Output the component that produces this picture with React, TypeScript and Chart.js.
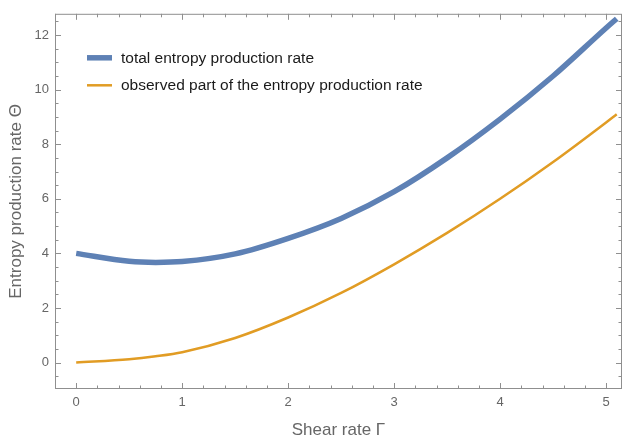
import React, { useEffect, useRef } from "react";
import { Chart, registerables } from "chart.js";

Chart.register(...registerables);

// ---- data ----
const shearRate = [0, 0.5, 0.75, 1, 1.5, 2, 2.5, 3, 3.5, 4, 4.5, 5, 5.1];
const totalRate = [4.0, 3.71, 3.67, 3.7, 3.98, 4.55, 5.28, 6.26, 7.5, 8.92, 10.5, 12.26, 12.6];
const observedRate = [0, 0.12, 0.23, 0.38, 0.9, 1.65, 2.55, 3.6, 4.75, 6.0, 7.35, 8.8, 9.1];

const seriesLabels = ["total entropy production rate", "observed part of the entropy production rate"];
const xTitle = "Shear rate Γ";
const yTitle = "Entropy production rate Θ";

const BLUE = "#5E81B5";
const ORANGE = "#E19C24";
const FRAME = "#8f8f8f";
const TICK_TEXT = "#666666";
const FONT = "'Liberation Sans', Arial, sans-serif";

const framePlugin = {
  id: "mmaFrame",
  afterDatasetsDraw(chart: any) {
    const { ctx, chartArea } = chart;
    const { left, right, top, bottom } = chartArea;
    const xs = chart.scales.x;
    const ys = chart.scales.y;
    ctx.save();
    ctx.strokeStyle = FRAME;
    ctx.lineWidth = 1;
    ctx.strokeRect(left + 0.5, top + 0.5, right - left - 1, bottom - top - 1);
    const line = (x1: number, y1: number, x2: number, y2: number) => {
      ctx.beginPath();
      ctx.moveTo(x1, y1);
      ctx.lineTo(x2, y2);
      ctx.stroke();
    };
    const major = 6;
    const minor = 3.5;
    const xMajors = xs.ticks.map((t: any) => t.value);
    const yMajors = ys.ticks.map((t: any) => t.value);
    const isMajor = (v: number, arr: number[]) => arr.some((m) => Math.abs(m - v) < 1e-6);
    const xStep = 0.2;
    for (let k = Math.ceil(xs.min / xStep - 1e-9); k * xStep <= xs.max + 1e-9; k++) {
      const v = k * xStep;
      const len = isMajor(v, xMajors) ? major : minor;
      const px = Math.round(xs.getPixelForValue(v)) + 0.5;
      line(px, bottom, px, bottom - len);
      line(px, top, px, top + len);
    }
    const yStep = 0.5;
    for (let k = Math.ceil(ys.min / yStep - 1e-9); k * yStep <= ys.max + 1e-9; k++) {
      const v = k * yStep;
      const len = isMajor(v, yMajors) ? major : minor;
      const py = Math.round(ys.getPixelForValue(v)) + 0.5;
      line(left, py, left + len, py);
      line(right, py, right - len, py);
    }
    ctx.restore();
  },
};

const legendPlugin = {
  id: "insideLegend",
  afterDraw(chart: any) {
    const { ctx, chartArea } = chart;
    ctx.save();
    ctx.font = `15.5px ${FONT}`;
    ctx.textBaseline = "middle";
    ctx.textAlign = "left";
    chart.data.datasets.forEach((ds: any, i: number) => {
      const y = chartArea.top + 44 + i * 27.5;
      const x0 = chartArea.left + 32;
      ctx.strokeStyle = ds.borderColor;
      ctx.lineWidth = ds.borderWidth;
      ctx.beginPath();
      ctx.moveTo(x0, y);
      ctx.lineTo(x0 + 25, y);
      ctx.stroke();
      ctx.fillStyle = "#1a1a1a";
      ctx.fillText(ds.label, x0 + 34, y + 0.5);
    });
    ctx.restore();
  },
};

export default function App() {
  const ref = useRef<HTMLCanvasElement | null>(null);
  useEffect(() => {
    if (!ref.current) return;
    const chart = new Chart(ref.current, {
      type: "line",
      data: {
        datasets: [
          {
            label: seriesLabels[0],
            data: shearRate.map((x, i) => ({ x, y: totalRate[i] })),
            borderColor: BLUE,
            backgroundColor: BLUE,
            borderWidth: 5.5,
            pointRadius: 0,
            cubicInterpolationMode: "monotone",
          },
          {
            label: seriesLabels[1],
            data: shearRate.map((x, i) => ({ x, y: observedRate[i] })),
            borderColor: ORANGE,
            backgroundColor: ORANGE,
            borderWidth: 2.5,
            pointRadius: 0,
            cubicInterpolationMode: "monotone",
          },
        ],
      },
      options: {
        animation: false,
        responsive: false,
        maintainAspectRatio: false,
        layout: { padding: { top: 9, right: 2, left: 0, bottom: 0 } },
        plugins: { legend: { display: false }, tooltip: { enabled: false } },
        scales: {
          x: {
            type: "linear",
            min: -0.2,
            max: 5.15,
            grid: { display: false, drawTicks: false },
            border: { display: false },
            ticks: {
              stepSize: 1,
              includeBounds: false,
              color: TICK_TEXT,
              padding: 6,
              font: { family: FONT, size: 13 },
              maxRotation: 0,
            },
            title: {
              display: true,
              text: xTitle,
              color: TICK_TEXT,
              font: { family: FONT, size: 17 },
              padding: { top: 0, bottom: 0 },
            },
            afterFit: (s: any) => {
              s.height = 52;
            },
          },
          y: {
            type: "linear",
            min: -0.97,
            max: 12.78,
            grid: { display: false, drawTicks: false },
            border: { display: false },
            ticks: {
              stepSize: 2,
              includeBounds: false,
              color: TICK_TEXT,
              padding: 6,
              font: { family: FONT, size: 13 },
            },
            title: {
              display: true,
              text: yTitle,
              color: TICK_TEXT,
              font: { family: FONT, size: 17 },
              padding: { top: 6, bottom: 0 },
            },
            afterFit: (s: any) => {
              s.width = 55;
            },
          },
        },
      },
      plugins: [framePlugin, legendPlugin],
    });
    return () => chart.destroy();
  }, []);
  return (
    <div style={{ position: "fixed", left: 0, top: 0, width: 624, height: 441, background: "#fff" }}>
      <canvas ref={ref} width={624} height={441} style={{ display: "block" }} />
    </div>
  );
}
